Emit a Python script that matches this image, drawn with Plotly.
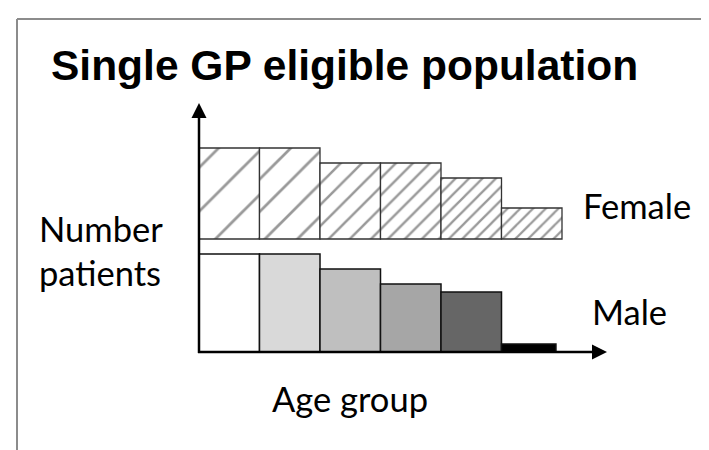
import plotly.graph_objects as go

# ---- data ----
age_groups = ["Group 1", "Group 2", "Group 3", "Group 4", "Group 5", "Group 6"]
female_patients = [91, 91, 76, 76, 61, 31]
male_patients = [98, 98, 83, 68, 60, 8]

W, H = 709, 450
OFF = 8  # page body margin offset (screen px -> figure px)

# styles
female_hatch_size = [31, 23, 15, 12, 9.5, 9]
female_hatch_solidity = [0.09, 0.12, 0.17, 0.2, 0.24, 0.25]
male_colors = ["#ffffff", "#d9d9d9", "#bfbfbf", "#a6a6a6", "#666666", "#000000"]
male_widths = [1, 1, 1, 1, 1, 0.9]

fig = go.Figure()
fig.add_trace(go.Bar(
    x=age_groups, y=female_patients, yaxis="y2", name="Female",
    width=1, offset=-0.5,
    marker=dict(
        color="white",
        line=dict(color="#333333", width=1.3),
        pattern=dict(shape="/", size=female_hatch_size, solidity=female_hatch_solidity,
                     fgcolor="#333333", bgcolor="white", fillmode="overlay"),
    ),
    hoverinfo="skip",
))
fig.add_trace(go.Bar(
    x=age_groups, y=male_patients, yaxis="y", name="Male",
    width=male_widths, offset=-0.5,
    marker=dict(color=male_colors, line=dict(color="#111111", width=1.5)),
    hoverinfo="skip",
))


def px(x):
    return (x - OFF) / W


def py(y):
    return 1 - (y - OFF) / H


shapes = []
# frame (gray border)
shapes.append(dict(type="line", xref="paper", yref="paper", x0=px(17), y0=py(19), x1=px(725), y1=py(19),
                   line=dict(color="#8c8c8c", width=2)))
shapes.append(dict(type="line", xref="paper", yref="paper", x0=px(17), y0=py(19), x1=px(17), y1=py(465),
                   line=dict(color="#8c8c8c", width=2)))
# y axis arrow
shapes.append(dict(type="line", xref="paper", yref="paper", x0=px(199), y0=py(353), x1=px(199), y1=py(114),
                   line=dict(color="black", width=2.5)))
shapes.append(dict(type="path", xref="paper", yref="paper",
                   path=f"M {px(199)} {py(103)} L {px(191.5)} {py(118)} L {px(206.5)} {py(118)} Z",
                   fillcolor="black", line=dict(width=0)))
# x axis arrow
shapes.append(dict(type="line", xref="paper", yref="paper", x0=px(198), y0=py(352), x1=px(595), y1=py(352),
                   line=dict(color="black", width=2.5)))
shapes.append(dict(type="path", xref="paper", yref="paper",
                   path=f"M {px(607)} {py(352)} L {px(592)} {py(344.5)} L {px(592)} {py(359.5)} Z",
                   fillcolor="black", line=dict(width=0)))

label_font = dict(family="Lato, Carlito, sans-serif", size=34.5, color="black")
annotations = [
    dict(text="<b>Single GP eligible population</b>", x=px(344), y=py(65), xref="paper", yref="paper",
         showarrow=False, xanchor="center", yanchor="middle",
         font=dict(family="Liberation Sans, Arial, sans-serif", size=42.5, color="black")),
    dict(text="Number", x=px(37), y=py(229), xref="paper", yref="paper", showarrow=False,
         xanchor="left", yanchor="middle", font=label_font),
    dict(text="patients", x=px(37), y=py(272), xref="paper", yref="paper", showarrow=False,
         xanchor="left", yanchor="middle", font=label_font),
    dict(text="Female", x=px(581), y=py(206), xref="paper", yref="paper", showarrow=False,
         xanchor="left", yanchor="middle", font=label_font),
    dict(text="Male", x=px(590), y=py(311), xref="paper", yref="paper", showarrow=False,
         xanchor="left", yanchor="middle", font=label_font),
    dict(text="Age group", x=px(350), y=py(398), xref="paper", yref="paper", showarrow=False,
         xanchor="center", yanchor="middle", font=label_font),
]

# x: category index -0.5 at screen pixel 199, 60.5 px per category
unit = 60.5
x0 = -0.5 - (199 - OFF) / unit
x1 = x0 + W / unit
male_base = 352 - OFF
female_base = 239 - OFF

fig.update_layout(
    width=W, height=H,
    margin=dict(l=0, r=0, t=0, b=0),
    paper_bgcolor="white", plot_bgcolor="white",
    showlegend=False,
    barmode="overlay",
    xaxis=dict(type="category", range=[x0, x1], visible=False, fixedrange=True),
    yaxis=dict(range=[-(H - male_base), male_base], visible=False, fixedrange=True),
    yaxis2=dict(range=[-(H - female_base), female_base], visible=False, overlaying="y", fixedrange=True),
    shapes=shapes,
    annotations=annotations,
)

fig.write_html("out.html")
